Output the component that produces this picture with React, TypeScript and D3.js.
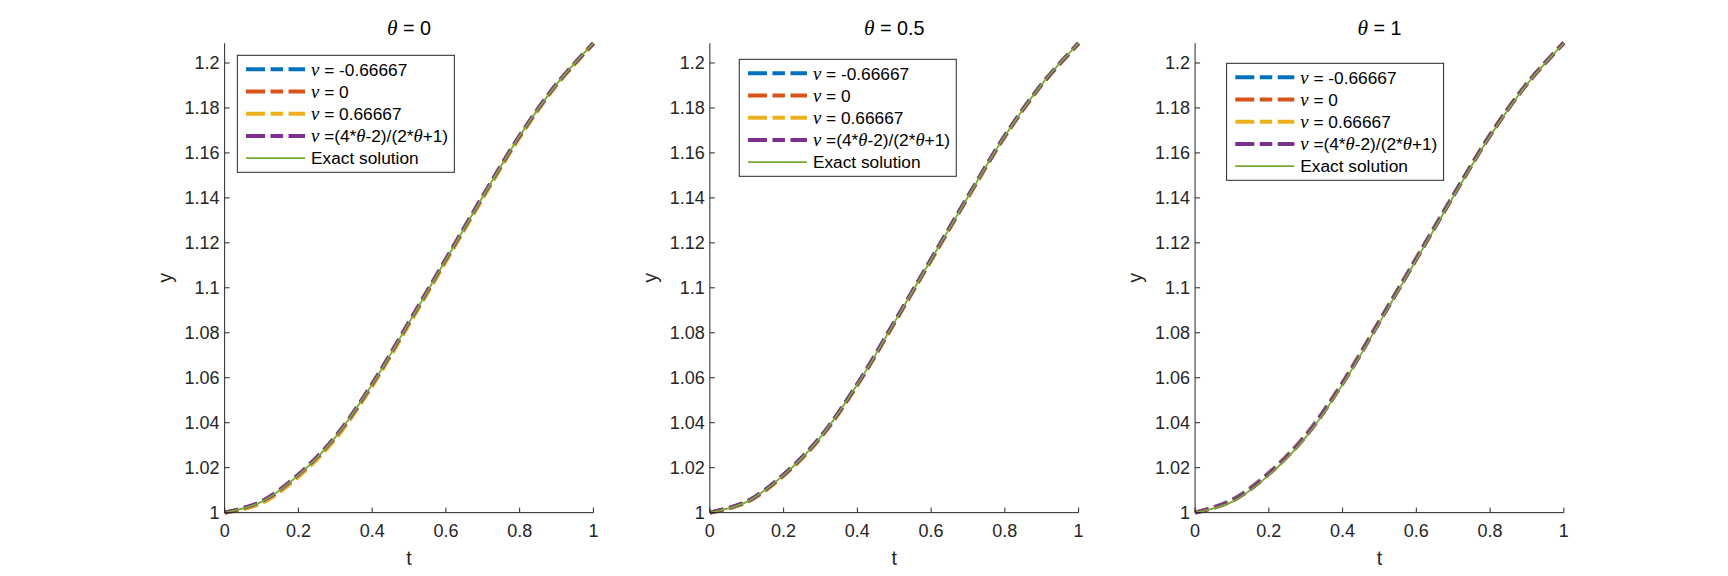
import { useMemo } from 'react';
import * as d3 from 'd3';

// time grid shared by every curve
const tValues = [0, 0.1, 0.2, 0.3, 0.4, 0.5, 0.6, 0.7, 0.8, 0.9, 1];

// exact solution
const exactY = [1.0, 1.0048, 1.0167, 1.0335, 1.057, 1.0845, 1.1125, 1.1405, 1.1675, 1.1905, 1.2088];

// theta = 0
const theta0NuNeg = [1.0, 1.0046, 1.0164, 1.0332, 1.0567, 1.0842, 1.1122, 1.1402, 1.1673, 1.1904, 1.2087];
const theta0NuZero = [1.0, 1.0044, 1.0162, 1.033, 1.0565, 1.084, 1.112, 1.14, 1.1671, 1.1903, 1.2087];
const theta0NuPos = [1.0, 1.0042, 1.016, 1.0328, 1.0563, 1.0838, 1.1118, 1.1399, 1.167, 1.1902, 1.2086];
const theta0NuFormula = [1.0, 1.005, 1.017, 1.0338, 1.0573, 1.0848, 1.1128, 1.1408, 1.1677, 1.1906, 1.2088];

// theta = 0.5
const theta05NuNeg = [1.0, 1.0049, 1.0169, 1.0337, 1.0572, 1.0847, 1.1127, 1.1406, 1.1676, 1.1905, 1.2088];
const theta05NuZero = [1.0, 1.0047, 1.0166, 1.0334, 1.0569, 1.0844, 1.1124, 1.1404, 1.1674, 1.1904, 1.2087];
const theta05NuPos = [1.0, 1.0046, 1.0164, 1.0332, 1.0567, 1.0842, 1.1122, 1.1402, 1.1673, 1.1903, 1.2087];
const theta05NuFormula = [1.0, 1.0049, 1.0168, 1.0336, 1.0571, 1.0846, 1.1126, 1.1406, 1.1676, 1.1905, 1.2088];

// theta = 1
const theta1NuNeg = [1.0, 1.0056, 1.0177, 1.0345, 1.0579, 1.0853, 1.1132, 1.1411, 1.168, 1.1909, 1.209];
const theta1NuZero = [1.0, 1.0054, 1.0175, 1.0343, 1.0577, 1.0851, 1.113, 1.1409, 1.1679, 1.1908, 1.209];
const theta1NuPos = [1.0, 1.0052, 1.0173, 1.0341, 1.0576, 1.085, 1.1129, 1.1408, 1.1678, 1.1907, 1.2089];
const theta1NuFormula = [1.0, 1.0052, 1.0172, 1.034, 1.0575, 1.0849, 1.1128, 1.1408, 1.1678, 1.1907, 1.2089];

const thetaLabels = ['0', '0.5', '1'];
const nuLabels = ['-0.66667', '0', '0.66667'];
const xTicks = [0, 0.2, 0.4, 0.6, 0.8, 1];
const yTicks = [1, 1.02, 1.04, 1.06, 1.08, 1.1, 1.12, 1.14, 1.16, 1.18, 1.2];
const yLimits = [1, 1.2088];

const panelSeries = [
  [theta0NuNeg, theta0NuZero, theta0NuPos, theta0NuFormula],
  [theta05NuNeg, theta05NuZero, theta05NuPos, theta05NuFormula],
  [theta1NuNeg, theta1NuZero, theta1NuPos, theta1NuFormula],
];

const colors = ['#0072BD', '#D95319', '#EDB120', '#7E2F8E'];
const exactColor = '#77AC30';
const ink = '#262626';

// figure layout (matlab subplot positions)
const W = 1728;
const H = 576;
const axLefts = [0.13, 0.4108, 0.6916].map((f) => f * W);
const axW = 0.2134 * W;
const axTop = H - (0.11 + 0.815) * H;
const axBottom = H - 0.11 * H;
const legendOffsets = [
  { dx: 12.7, top: 55.3 },
  { dx: 29.4, top: 59.3 },
  { dx: 31.5, top: 63.3 },
];

const sans = '"Liberation Sans", Arial, Helvetica, sans-serif';
const serif = '"Liberation Serif", "Times New Roman", serif';

const Greek = ({ ch }: { ch: string }) => (
  <tspan fontFamily={serif} fontStyle="italic" fontSize="1.08em">{ch}</tspan>
);

const Panel = ({ idx }: { idx: number }) => {
  const left = axLefts[idx];
  const x = d3.scaleLinear().domain([0, 1]).range([left, left + axW]);
  const y = d3.scaleLinear().domain(yLimits).range([axBottom, axTop]);
  const line = d3
    .line<number>()
    .x((_, i) => x(tValues[i]))
    .y((d) => y(d))
    .curve(d3.curveCatmullRom.alpha(0.5));

  const lg = legendOffsets[idx];
  const lgX = left + lg.dx;
  const lgY = lg.top;
  const rowY = (i: number) => lgY + 14 + i * 22.2;
  const legendText = [
    <><Greek ch="ν" /> = {nuLabels[0]}</>,
    <><Greek ch="ν" /> = {nuLabels[1]}</>,
    <><Greek ch="ν" /> = {nuLabels[2]}</>,
    <><Greek ch="ν" /> =(4*<Greek ch="θ" />-2)/(2*<Greek ch="θ" />+1)</>,
    <>Exact solution</>,
  ];

  return (
    <g>
      {panelSeries[idx].map((s, k) => (
        <path
          key={k}
          d={line(s) || ''}
          fill="none"
          stroke={colors[k]}
          strokeWidth={4}
          strokeDasharray="14 6"
        />
      ))}
      <path d={line(exactY) || ''} fill="none" stroke={exactColor} strokeWidth={1.8} />

      {/* axes */}
      <line x1={left} x2={left} y1={axTop} y2={axBottom} stroke={ink} strokeWidth={1} />
      <line x1={left} x2={left + axW} y1={axBottom} y2={axBottom} stroke={ink} strokeWidth={1} />
      {xTicks.map((t) => (
        <g key={t}>
          <line x1={x(t)} x2={x(t)} y1={axBottom} y2={axBottom - 5} stroke={ink} />
          <text x={x(t)} y={537} textAnchor="middle" fontSize={18} fill={ink} fontFamily={sans}>
            {String(t)}
          </text>
        </g>
      ))}
      {yTicks.map((v) => (
        <g key={v}>
          <line x1={left} x2={left + 5} y1={y(v)} y2={y(v)} stroke={ink} />
          <text
            x={left - 5}
            y={y(v)}
            dy="0.36em"
            textAnchor="end"
            fontSize={18}
            fill={ink}
            fontFamily={sans}
          >
            {String(v)}
          </text>
        </g>
      ))}
      <text x={left + axW / 2} y={565} textAnchor="middle" fontSize={19.8} fill={ink} fontFamily={sans}>
        t
      </text>
      <text
        transform={`translate(${left - 53},${(axTop + axBottom) / 2}) rotate(-90)`}
        textAnchor="middle"
        fontSize={19.8}
        fill={ink}
        fontFamily={sans}
      >
        y
      </text>
      <text x={left + axW / 2} y={35} textAnchor="middle" fontSize={19.8} fill="#000" fontFamily={sans}>
        <Greek ch="θ" /> = {thetaLabels[idx]}
      </text>

      {/* legend */}
      <rect x={lgX} y={lgY} width={217} height={117} fill="#fff" stroke={ink} strokeWidth={1} />
      {legendText.map((lbl, i) => (
        <g key={i}>
          <line
            x1={lgX + 8.7}
            x2={lgX + 67.7}
            y1={rowY(i)}
            y2={rowY(i)}
            stroke={i < 4 ? colors[i] : exactColor}
            strokeWidth={i < 4 ? 4 : 1.8}
            strokeDasharray={i < 4 ? '19 5.5 12.5 5.5 17' : undefined}
          />
          <text
            x={lgX + 73.7}
            y={rowY(i)}
            dy="0.36em"
            fontSize={17.3}
            fill="#000"
            fontFamily={sans}
          >
            {lbl}
          </text>
        </g>
      ))}
    </g>
  );
};

export default function App() {
  const panels = useMemo(() => [0, 1, 2], []);
  return (
    <svg
      width={W}
      height={H}
      style={{ position: 'absolute', left: 0, top: 0, display: 'block', background: '#fff' }}
    >
      <rect width={W} height={H} fill="#fff" />
      {panels.map((i) => (
        <Panel key={i} idx={i} />
      ))}
    </svg>
  );
}
